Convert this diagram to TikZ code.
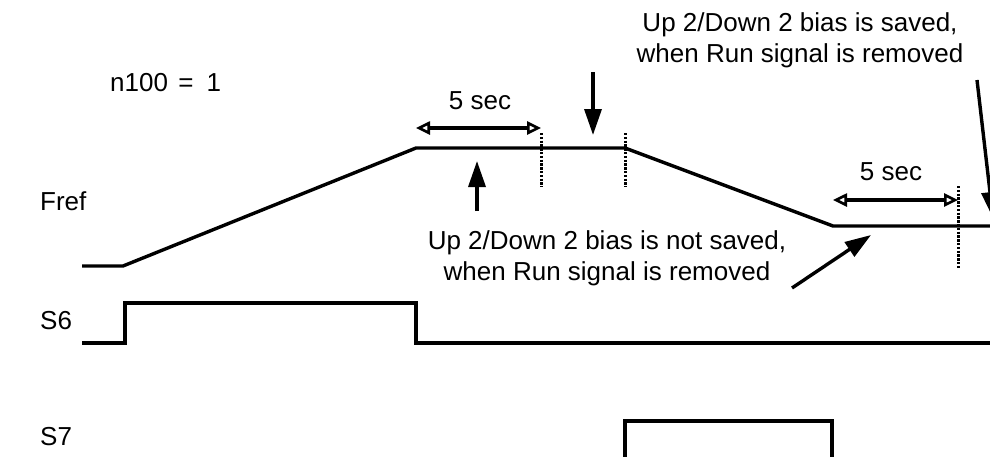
\documentclass[tikz,border=0pt]{standalone}
\usepackage{fontspec}
\setmainfont{Liberation Sans}
\usetikzlibrary{arrows.meta}
\begin{document}
\begin{tikzpicture}[x=1pt,y=-1pt,
  sig/.style={line width=3.4pt,line join=miter},
  dotline/.style={line width=3pt,dash pattern=on 2.4pt off 1.4pt},
  span/.style={line width=3.4pt,{Triangle[open,length=14pt,width=13pt,line width=2.6pt]}-{Triangle[open,length=14pt,width=13pt,line width=2.6pt]}},
  pointer/.style={line width=3.4pt,-{Triangle[length=26pt,width=17pt]}},
  lbl/.style={font=\fontsize{26}{31}\selectfont,inner sep=0pt},
  note/.style={lbl,align=center}]
\useasboundingbox (0,0) rectangle (990,456);
\clip (0,0) rectangle (990,456);
% labels
\node[lbl,anchor=west] (fref) at (40,201) {Fref};
\node[lbl,anchor=west] (s6) at (40,321) {S6};
\node[lbl,anchor=west] (s7) at (40,437) {S7};
\node[lbl,anchor=west] (n100) at (110,83) {n100\hspace{0.4em}=\hspace{0.5em}1};
% Fref waveform
\coordinate (f0) at (82,266);
\coordinate (f1) at (123,266);
\coordinate (f2) at (416,148);
\coordinate (f3) at (625,148);
\coordinate (f4) at (833,226);
\coordinate (f5) at (995,226);
\draw[sig] (f0) -- (f1) -- (f2) -- (f3) -- (f4) -- (f5);
% dotted markers
\coordinate (d1t) at (541,133); \coordinate (d1b) at (541,187);
\coordinate (d2t) at (625,133); \coordinate (d2b) at (625,187);
\coordinate (d3t) at (958,186); \coordinate (d3b) at (958,268);
\draw[dotline] (d1t) -- (d1b);
\draw[dotline] (d2t) -- (d2b);
\draw[dotline] (d3t) -- (d3b);
% 5 sec spans
\coordinate (a1l) at (416,128); \coordinate (a1r) at (541,128);
\draw[span] (a1l) -- (a1r);
\node[lbl] (t1) at (480,101) {5 sec};
\coordinate (a2l) at (833,200); \coordinate (a2r) at (958,200);
\draw[span] (a2l) -- (a2r);
\node[lbl] (t2) at (891,172) {5 sec};
% notes
\node[note] (saved) at (800,40) {Up 2/Down 2 bias is saved,\\when Run signal is removed};
\node[note] (notsaved) at (607,258) {Up 2/Down 2 bias is not saved,\\when Run signal is removed};
% pointer arrows
\coordinate (p1s) at (593,72); \coordinate (p1e) at (593,135);
\draw[pointer] (p1s) -- (p1e);
\coordinate (p2s) at (477,211); \coordinate (p2e) at (477,161);
\draw[pointer] (p2s) -- (p2e);
\coordinate (p3s) at (792,288); \coordinate (p3e) at (871,235);
\draw[pointer] (p3s) -- (p3e);
\coordinate (p4s) at (977,80); \coordinate (p4e) at (993,218);
\draw[pointer] (p4s) -- (p4e);
% S6
\coordinate (s0) at (82,343); \coordinate (s1) at (125,343);
\coordinate (s2) at (125,303); \coordinate (s3) at (416,303);
\coordinate (s4) at (416,343); \coordinate (s5) at (995,343);
\draw[sig] (s0) -- (s1) -- (s2) -- (s3) -- (s4) -- (s5);
% S7
\coordinate (r0) at (625,470); \coordinate (r1) at (625,421);
\coordinate (r2) at (832,421); \coordinate (r3) at (832,470);
\draw[sig] (r0) -- (r1) -- (r2) -- (r3);
\end{tikzpicture}
\end{document}
